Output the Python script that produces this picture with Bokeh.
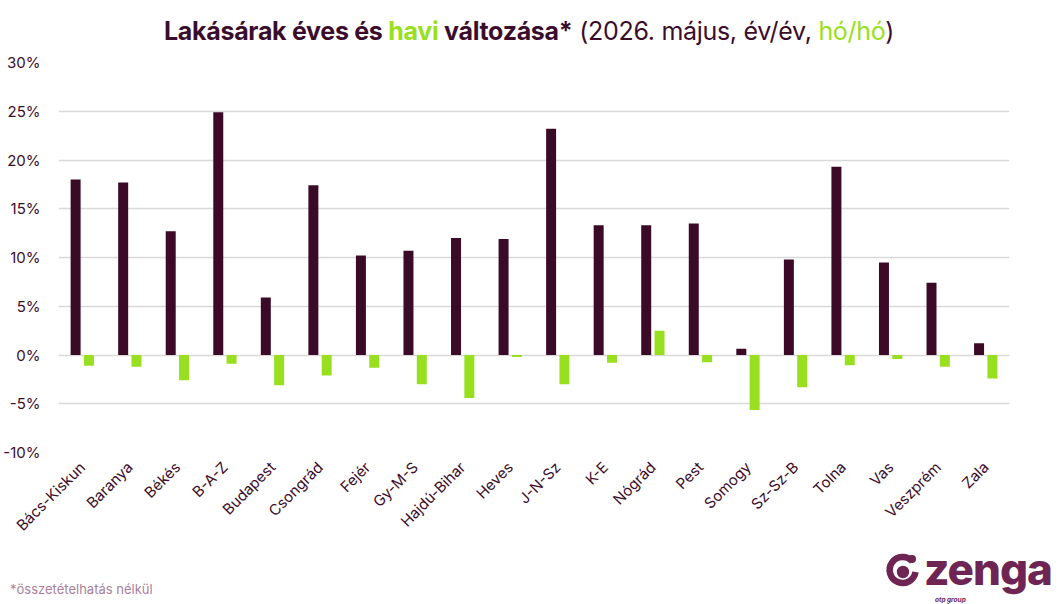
import numpy as np
from bokeh.plotting import figure
from bokeh.layouts import column
from bokeh.models import Div, ColumnDataSource, FactorRange, NumeralTickFormatter, FixedTicker
from bokeh.transform import dodge
from bokeh.embed import file_html
from bokeh.resources import INLINE

counties = ["Bács-Kiskun", "Baranya", "Békés", "B-A-Z", "Budapest", "Csongrád", "Fejér",
            "Gy-M-S", "Hajdú-Bihar", "Heves", "J-N-Sz", "K-E", "Nógrád", "Pest", "Somogy",
            "Sz-Sz-B", "Tolna", "Vas", "Veszprém", "Zala"]
yoy = [18.0, 17.7, 12.7, 24.9, 5.9, 17.4, 10.2, 10.7, 12.0, 11.9, 23.2, 13.3, 13.3, 13.5,
       0.65, 9.8, 19.3, 9.5, 7.4, 1.2]
mom = [-1.1, -1.2, -2.6, -0.9, -3.1, -2.1, -1.3, -3.0, -4.4, -0.2, -3.0, -0.8, 2.5, -0.75,
       -5.65, -3.3, -1.05, -0.4, -1.2, -2.4]
y_ticks = [-10, -5, 0, 5, 10, 15, 20, 25, 30]

DARK = "#3a0a26"
GREEN = "#98df20"
TEXT = "#3b0d2c"
LOGO = "#6e2553"
FONT = "Inter"

src = ColumnDataSource(dict(county=counties, yoy=[v / 100 for v in yoy], mom=[v / 100 for v in mom]))

title = Div(text=(
    f'<div style="width:1058px;text-align:center;font-family:{FONT};font-size:25px;color:{TEXT};'
    f'white-space:nowrap;letter-spacing:-0.3px;">'
    f'<span style="font-weight:700">Lakásárak éves és <span style="color:{GREEN}">havi</span> változása*</span>'
    f'<span style="font-weight:400"> (2026. május, év/év, <span style="color:{GREEN}">hó/hó</span>)</span></div>'),
    width=1058, height=50, margin=(0, 0, 0, 0),
    styles={"padding-top": "14px"})

p = figure(x_range=FactorRange(*counties, range_padding=0), y_range=(-0.10, 0.30),
           frame_width=951, frame_height=390, output_backend="svg", toolbar_location=None,
           min_border_left=57, min_border_right=50, min_border_top=12, min_border_bottom=96)
p.outline_line_color = None
p.background_fill_color = "white"
p.border_fill_color = "white"

p.vbar(x=dodge("county", -0.14, range=p.x_range), top="yoy", bottom=0, width=0.21,
       source=src, fill_color=DARK, line_color=None)
p.vbar(x=dodge("county", 0.14, range=p.x_range), top="mom", bottom=0, width=0.21,
       source=src, fill_color=GREEN, line_color=None)

p.yaxis.ticker = FixedTicker(ticks=[t / 100 for t in y_ticks])
p.yaxis.formatter = NumeralTickFormatter(format="0%")
p.yaxis.axis_line_color = None
p.yaxis.major_tick_line_color = None
p.yaxis.minor_tick_line_color = None
p.yaxis.major_label_text_font = FONT
p.yaxis.major_label_text_font_size = "15px"
p.yaxis.major_label_text_color = TEXT
p.yaxis.major_label_standoff = 12

p.xaxis.axis_line_color = None
p.xaxis.major_tick_line_color = None
p.xaxis.major_label_orientation = np.pi / 4
p.xaxis.major_label_text_font = FONT
p.xaxis.major_label_text_font_size = "15px"
p.xaxis.major_label_text_color = TEXT
p.xaxis.major_label_standoff = 6

p.xgrid.grid_line_color = None
p.ygrid.grid_line_color = "#d9d9d9"
p.ygrid.grid_line_width = 1.5

logo_svg = (
    '<svg width="40" height="40" viewBox="0 0 40 40" style="position:absolute;left:0;top:5px">'
    f'<path d="M 29.5 8.5 A 13 13 0 1 0 32.5 19" fill="none" stroke="{LOGO}" stroke-width="6.5"/>'
    f'<circle cx="20" cy="19" r="6.2" fill="{LOGO}"/>'
    f'<circle cx="29" cy="6" r="4" fill="{LOGO}"/>'
    '</svg>')

bottom = Div(text=(
    '<div style="position:relative;width:1058px;height:56px;">'
    f'<div style="position:absolute;left:10px;top:32px;font-family:{FONT};font-size:13px;color:#a9809c;">'
    '*összetételhatás nélkül</div>'
    '<div style="position:absolute;left:883px;top:0px;width:175px;height:56px;">'
    + logo_svg +
    f'<div style="position:absolute;left:41px;top:-1px;font-family:{FONT};font-weight:800;font-size:44px;'
    f'line-height:44px;height:44px;color:{LOGO};letter-spacing:-1px;">zenga</div>'
    f'<div style="position:absolute;left:52px;top:49px;font-family:{FONT};font-style:italic;font-weight:700;'
    f'font-size:6.5px;line-height:7px;color:{LOGO};">otp group</div>'
    '</div></div>'),
    width=1058, height=56, margin=(0, 0, 0, 0))

layout = column(title, p, bottom, spacing=0, margin=(0, 0, 0, 0))
open("out.html", "w").write(file_html(layout, INLINE))
